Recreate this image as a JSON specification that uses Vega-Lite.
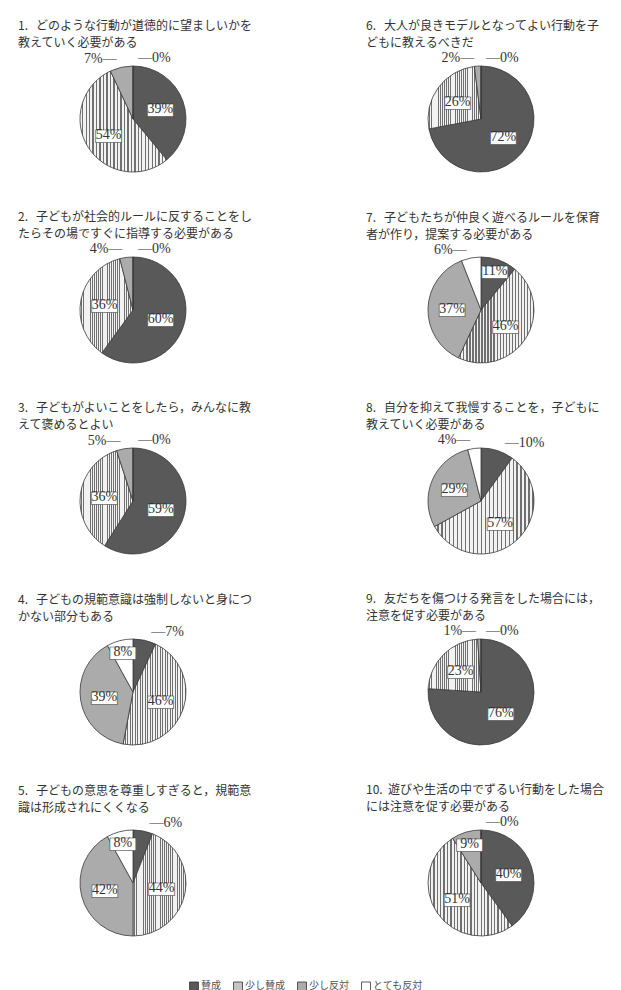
{
  "$schema": "https://vega.github.io/schema/vega-lite/v6.json",
  "padding": {"left": 18, "top": 20, "right": 0, "bottom": 0},
  "background": "white",
  "params": [
    {"name": "stripes", "value": {"gradient": "linear", "x1": 0, "y1": 0, "x2": 1, "y2": 0, "stops": [
      {"offset": 0, "color": "#f2f2f2"}, {"offset": 0.024, "color": "#f2f2f2"}, {"offset": 0.024, "color": "#707070"}, {"offset": 0.04, "color": "#707070"},
      {"offset": 0.04, "color": "#f2f2f2"}, {"offset": 0.064, "color": "#f2f2f2"}, {"offset": 0.064, "color": "#707070"}, {"offset": 0.08, "color": "#707070"},
      {"offset": 0.08, "color": "#f2f2f2"}, {"offset": 0.104, "color": "#f2f2f2"}, {"offset": 0.104, "color": "#707070"}, {"offset": 0.12, "color": "#707070"},
      {"offset": 0.12, "color": "#f2f2f2"}, {"offset": 0.144, "color": "#f2f2f2"}, {"offset": 0.144, "color": "#707070"}, {"offset": 0.16, "color": "#707070"},
      {"offset": 0.16, "color": "#f2f2f2"}, {"offset": 0.184, "color": "#f2f2f2"}, {"offset": 0.184, "color": "#707070"}, {"offset": 0.2, "color": "#707070"},
      {"offset": 0.2, "color": "#f2f2f2"}, {"offset": 0.224, "color": "#f2f2f2"}, {"offset": 0.224, "color": "#707070"}, {"offset": 0.24, "color": "#707070"},
      {"offset": 0.24, "color": "#f2f2f2"}, {"offset": 0.264, "color": "#f2f2f2"}, {"offset": 0.264, "color": "#707070"}, {"offset": 0.28, "color": "#707070"},
      {"offset": 0.28, "color": "#f2f2f2"}, {"offset": 0.304, "color": "#f2f2f2"}, {"offset": 0.304, "color": "#707070"}, {"offset": 0.32, "color": "#707070"},
      {"offset": 0.32, "color": "#f2f2f2"}, {"offset": 0.344, "color": "#f2f2f2"}, {"offset": 0.344, "color": "#707070"}, {"offset": 0.36, "color": "#707070"},
      {"offset": 0.36, "color": "#f2f2f2"}, {"offset": 0.384, "color": "#f2f2f2"}, {"offset": 0.384, "color": "#707070"}, {"offset": 0.4, "color": "#707070"},
      {"offset": 0.4, "color": "#f2f2f2"}, {"offset": 0.424, "color": "#f2f2f2"}, {"offset": 0.424, "color": "#707070"}, {"offset": 0.44, "color": "#707070"},
      {"offset": 0.44, "color": "#f2f2f2"}, {"offset": 0.464, "color": "#f2f2f2"}, {"offset": 0.464, "color": "#707070"}, {"offset": 0.48, "color": "#707070"},
      {"offset": 0.48, "color": "#f2f2f2"}, {"offset": 0.504, "color": "#f2f2f2"}, {"offset": 0.504, "color": "#707070"}, {"offset": 0.52, "color": "#707070"},
      {"offset": 0.52, "color": "#f2f2f2"}, {"offset": 0.544, "color": "#f2f2f2"}, {"offset": 0.544, "color": "#707070"}, {"offset": 0.56, "color": "#707070"},
      {"offset": 0.56, "color": "#f2f2f2"}, {"offset": 0.584, "color": "#f2f2f2"}, {"offset": 0.584, "color": "#707070"}, {"offset": 0.6, "color": "#707070"},
      {"offset": 0.6, "color": "#f2f2f2"}, {"offset": 0.624, "color": "#f2f2f2"}, {"offset": 0.624, "color": "#707070"}, {"offset": 0.64, "color": "#707070"},
      {"offset": 0.64, "color": "#f2f2f2"}, {"offset": 0.664, "color": "#f2f2f2"}, {"offset": 0.664, "color": "#707070"}, {"offset": 0.68, "color": "#707070"},
      {"offset": 0.68, "color": "#f2f2f2"}, {"offset": 0.704, "color": "#f2f2f2"}, {"offset": 0.704, "color": "#707070"}, {"offset": 0.72, "color": "#707070"},
      {"offset": 0.72, "color": "#f2f2f2"}, {"offset": 0.744, "color": "#f2f2f2"}, {"offset": 0.744, "color": "#707070"}, {"offset": 0.76, "color": "#707070"},
      {"offset": 0.76, "color": "#f2f2f2"}, {"offset": 0.784, "color": "#f2f2f2"}, {"offset": 0.784, "color": "#707070"}, {"offset": 0.8, "color": "#707070"},
      {"offset": 0.8, "color": "#f2f2f2"}, {"offset": 0.824, "color": "#f2f2f2"}, {"offset": 0.824, "color": "#707070"}, {"offset": 0.84, "color": "#707070"},
      {"offset": 0.84, "color": "#f2f2f2"}, {"offset": 0.864, "color": "#f2f2f2"}, {"offset": 0.864, "color": "#707070"}, {"offset": 0.88, "color": "#707070"},
      {"offset": 0.88, "color": "#f2f2f2"}, {"offset": 0.904, "color": "#f2f2f2"}, {"offset": 0.904, "color": "#707070"}, {"offset": 0.92, "color": "#707070"},
      {"offset": 0.92, "color": "#f2f2f2"}, {"offset": 0.944, "color": "#f2f2f2"}, {"offset": 0.944, "color": "#707070"}, {"offset": 0.96, "color": "#707070"},
      {"offset": 0.96, "color": "#f2f2f2"}, {"offset": 0.984, "color": "#f2f2f2"}, {"offset": 0.984, "color": "#707070"}, {"offset": 1, "color": "#707070"}
    ]}}
  ],
  "data": {"values": [
    {"q": 1, "cat": "賛成", "v": 0.39}, {"q": 1, "cat": "少し賛成", "v": 0.54}, {"q": 1, "cat": "少し反対", "v": 0.07}, {"q": 1, "cat": "とても反対", "v": 0},
    {"q": 2, "cat": "賛成", "v": 0.60}, {"q": 2, "cat": "少し賛成", "v": 0.36}, {"q": 2, "cat": "少し反対", "v": 0.04}, {"q": 2, "cat": "とても反対", "v": 0},
    {"q": 3, "cat": "賛成", "v": 0.59}, {"q": 3, "cat": "少し賛成", "v": 0.36}, {"q": 3, "cat": "少し反対", "v": 0.05}, {"q": 3, "cat": "とても反対", "v": 0},
    {"q": 4, "cat": "賛成", "v": 0.07}, {"q": 4, "cat": "少し賛成", "v": 0.46}, {"q": 4, "cat": "少し反対", "v": 0.39}, {"q": 4, "cat": "とても反対", "v": 0.08},
    {"q": 5, "cat": "賛成", "v": 0.06}, {"q": 5, "cat": "少し賛成", "v": 0.44}, {"q": 5, "cat": "少し反対", "v": 0.42}, {"q": 5, "cat": "とても反対", "v": 0.08},
    {"q": 6, "cat": "賛成", "v": 0.72}, {"q": 6, "cat": "少し賛成", "v": 0.26}, {"q": 6, "cat": "少し反対", "v": 0.02}, {"q": 6, "cat": "とても反対", "v": 0},
    {"q": 7, "cat": "賛成", "v": 0.11}, {"q": 7, "cat": "少し賛成", "v": 0.46}, {"q": 7, "cat": "少し反対", "v": 0.37}, {"q": 7, "cat": "とても反対", "v": 0.06},
    {"q": 8, "cat": "賛成", "v": 0.10}, {"q": 8, "cat": "少し賛成", "v": 0.57}, {"q": 8, "cat": "少し反対", "v": 0.29}, {"q": 8, "cat": "とても反対", "v": 0.04},
    {"q": 9, "cat": "賛成", "v": 0.76}, {"q": 9, "cat": "少し賛成", "v": 0.23}, {"q": 9, "cat": "少し反対", "v": 0.01}, {"q": 9, "cat": "とても反対", "v": 0},
    {"q": 10, "cat": "賛成", "v": 0.40}, {"q": 10, "cat": "少し賛成", "v": 0.51}, {"q": 10, "cat": "少し反対", "v": 0.09}, {"q": 10, "cat": "とても反対", "v": 0}
  ]},
  "transform": [
    {"calculate": "indexof(['賛成','少し賛成','少し反対','とても反対'], datum.cat)", "as": "k"},
    {"calculate": "format(datum.v, '.0%')", "as": "lab"},
    {"calculate": "datum.lab + '—'", "as": "labL"},
    {"calculate": "'—' + datum.lab", "as": "labR"},
    {"calculate": "(datum.v < 0.075 || (datum.cat == '賛成' && datum.v < 0.105)) ? ((datum.cat == '賛成' || datum.v == 0) ? 'R' : 'L') : (datum.v < 0.12 ? 'S' : 'B')", "as": "pos"}
  ],
  "facet": {
    "field": "q", "type": "ordinal", "sort": [1, 6, 2, 7, 3, 8, 4, 9, 5, 10],
    "header": {
      "title": null,
      "labelExpr": "[['1.\u00a0\u00a0\u00a0どのような行動が道徳的に望ましいかを','\u3000\u00a0\u00a0教えていく必要がある'],['2.\u00a0\u00a0\u00a0子どもが社会的ルールに反することをし','\u3000\u00a0\u00a0たらその場ですぐに指導する必要がある'],['3.\u00a0\u00a0\u00a0子どもがよいことをしたら，みんなに教','\u3000\u00a0\u00a0えて褒めるとよい'],['4.\u00a0\u00a0\u00a0子どもの規範意識は強制しないと身につ','\u3000\u00a0\u00a0かない部分もある'],['5.\u00a0\u00a0\u00a0子どもの意思を尊重しすぎると，規範意','\u3000\u00a0\u00a0識は形成されにくくなる'],['6.\u00a0\u00a0\u00a0大人が良きモデルとなってよい行動を子','\u3000\u00a0\u00a0どもに教えるべきだ'],['7.\u00a0\u00a0\u00a0子どもたちが仲良く遊べるルールを保育','\u3000\u00a0\u00a0者が作り，提案する必要がある'],['8.\u00a0\u00a0\u00a0自分を抑えて我慢することを，子どもに','\u3000\u00a0\u00a0教えていく必要がある'],['9.\u00a0\u00a0\u00a0友だちを傷つける発言をした場合には，','\u3000\u00a0\u00a0注意を促す必要がある'],['10.\u00a0\u00a0遊びや生活の中でずるい行動をした場合','\u3000\u00a0\u00a0\u00a0\u00a0には注意を促す必要がある']][datum.value - 1]",
      "labelFont": "Noto Sans CJK JP",
      "labelFontSize": 12,
      "labelColor": "#333333",
      "labelAlign": "left",
      "labelAnchor": "start",
      "labelLineHeight": 17,
      "labelPadding": 1,
      "labelLimit": 0
    }
  },
  "columns": 2,
  "spacing": {"row": 37, "column": 109},
  "spec": {
    "width": 230,
    "height": 106,
    "encoding": {
      "theta": {"field": "v", "type": "quantitative", "stack": true},
      "order": {"field": "k", "type": "quantitative"},
      "detail": {"field": "cat", "type": "nominal"}
    },
    "layer": [
      {
        "mark": {"type": "arc", "stroke": "#3a3a3a", "strokeWidth": 0.8},
        "encoding": {
          "fill": {
            "field": "cat", "type": "nominal",
            "scale": {"domain": ["賛成", "少し賛成", "少し反対", "とても反対"], "range": ["#595959", "#c4c4c4", "#ababab", "#ffffff"]},
            "condition": {"test": "datum.cat == '少し賛成'", "value": {"expr": "stripes"}},
            "legend": {"title": null, "orient": "none", "legendX": 171, "legendY": 915, "direction": "horizontal", "symbolType": "square", "symbolSize": 80, "symbolStrokeColor": "#333333", "symbolStrokeWidth": 0.8, "labelFont": "Noto Sans CJK JP", "labelFontSize": 10, "labelColor": "#555555", "labelOffset": 2, "columnPadding": 10, "padding": 0}
          }
        }
      },
      {
        "mark": {"type": "text", "radius": 29, "font": "DejaVu Sans", "fontSize": 34, "fill": "#ffffff", "stroke": "#333333", "strokeWidth": 0.6},
        "encoding": {"text": {"condition": {"test": "datum.pos == 'B'", "value": "▬"}, "value": ""}}
      },
      {
        "mark": {"type": "text", "radius": 29, "font": "Liberation Serif", "fontSize": 14, "fill": "#333333"},
        "encoding": {"text": {"condition": {"test": "datum.pos == 'B'", "field": "lab", "type": "nominal"}, "value": ""}}
      },
      {
        "mark": {"type": "text", "radius": 41, "font": "DejaVu Sans", "fontSize": 34, "fill": "#ffffff", "stroke": "#333333", "strokeWidth": 0.6},
        "encoding": {"text": {"condition": {"test": "datum.pos == 'S'", "value": "▬"}, "value": ""}}
      },
      {
        "mark": {"type": "text", "radius": 41, "font": "Liberation Serif", "fontSize": 14, "fill": "#333333"},
        "encoding": {"text": {"condition": {"test": "datum.pos == 'S'", "field": "lab", "type": "nominal"}, "value": ""}}
      },
      {
        "mark": {"type": "text", "radius": 61, "align": "right", "dx": -3, "font": "Liberation Serif", "fontSize": 14, "fill": "#333333"},
        "encoding": {"text": {"condition": {"test": "datum.pos == 'L'", "field": "labL", "type": "nominal"}, "value": ""}}
      },
      {
        "mark": {"type": "text", "radius": 61, "align": "left", "dx": 5, "font": "Liberation Serif", "fontSize": 14, "fill": "#333333"},
        "encoding": {"text": {"condition": {"test": "datum.pos == 'R'", "field": "labR", "type": "nominal"}, "value": ""}}
      }
    ]
  },
  "config": {"view": {"stroke": null}, "font": "Noto Sans CJK JP"}
}
